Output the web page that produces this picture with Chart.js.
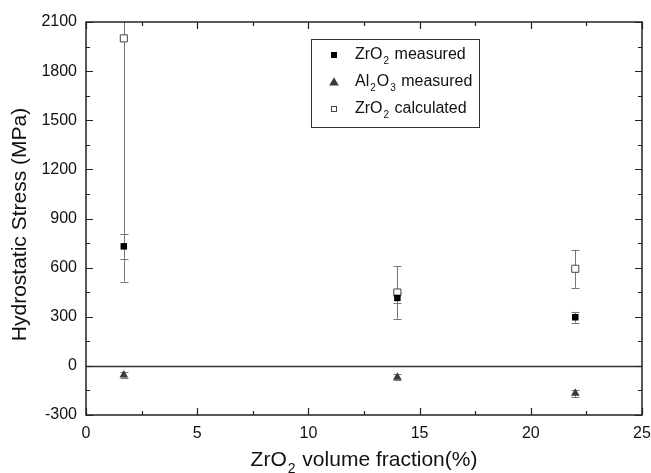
<!DOCTYPE html>
<html>
<head>
<meta charset="utf-8">
<script src="https://cdn.jsdelivr.net/npm/chart.js@4.4.0/dist/chart.umd.min.js"></script>
<style>
body{margin:0;background:#fff;}
#wrap{width:651px;height:473px;}
</style>
</head>
<body>
<div id="wrap"><canvas id="myChart" width="651" height="473"></canvas></div>
<script>
// ZrO2 volume fraction (%)
var fractions = [1.7, 14, 22];

// hydrostatic stress values (MPa) and their error half-widths
var zrMeasured = [730, 415, 297];
var zrMeasuredErr = [76, 30, 33];
var alMeasured = [-55, -69, -167];
var alMeasuredErr = [18, 20, 22];
var zrCalculated = [2000, 448, 593];
var zrCalculatedErr = [1485, 160, 116];

var xTicks = [0, 5, 10, 15, 20, 25];
var yTicks = [-300, 0, 300, 600, 900, 1200, 1500, 1800, 2100];

var legendItems = [
  {parts: [["ZrO", 0], ["2", 1], [" measured", 0]], marker: "square"},
  {parts: [["Al", 0], ["2", 1], ["O", 0], ["3", 1], [" measured", 0]], marker: "triangle"},
  {parts: [["ZrO", 0], ["2", 1], [" calculated", 0]], marker: "open"}
];

var FONT = "Arial, 'Liberation Sans', Helvetica, sans-serif";

function pts(ys) {
  return fractions.map(function (x, i) { return {x: x, y: ys[i]}; });
}

// text with subscripts, returns end x
function drawSubText(ctx, parts, x, y, size) {
  ctx.textBaseline = "middle";
  ctx.textAlign = "left";
  parts.forEach(function (p) {
    if (p[1]) {
      ctx.font = Math.round(size * 0.65) + "px " + FONT;
      ctx.fillText(p[0], x + 1, y + size * 0.42);
      x += ctx.measureText(p[0]).width + 2;
    } else {
      ctx.font = size + "px " + FONT;
      ctx.fillText(p[0], x, y);
      x += ctx.measureText(p[0]).width;
    }
  });
  return x;
}

function measureSubText(ctx, parts, size) {
  var w = 0;
  parts.forEach(function (p) {
    ctx.font = (p[1] ? Math.round(size * 0.65) : size) + "px " + FONT;
    w += ctx.measureText(p[0]).width + (p[1] ? 2 : 0);
  });
  return w;
}

function drawMarker(ctx, kind, x, y, s) {
  ctx.save();
  ctx.lineWidth = 1;
  if (kind === "square") {
    ctx.fillStyle = "#000";
    ctx.fillRect(x - s / 2, y - s / 2, s, s);
  } else if (kind === "triangle") {
    ctx.fillStyle = "#3a3a3a";
    ctx.beginPath();
    ctx.moveTo(x, y - s * 0.6);
    ctx.lineTo(x + s * 0.6, y + s * 0.45);
    ctx.lineTo(x - s * 0.6, y + s * 0.45);
    ctx.closePath();
    ctx.fill();
  } else {
    ctx.fillStyle = "#fff";
    ctx.strokeStyle = "#444";
    ctx.fillRect(x - s / 2, y - s / 2, s, s);
    ctx.strokeRect(x - s / 2 + 0.5, y - s / 2 + 0.5, s - 1, s - 1);
  }
  ctx.restore();
}

var errorSets = [
  {vals: zrMeasured, errs: zrMeasuredErr},
  {vals: alMeasured, errs: alMeasuredErr},
  {vals: zrCalculated, errs: zrCalculatedErr}
];

var decorPlugin = {
  id: "decor",
  beforeDatasetsDraw: function (chart) {
    var ctx = chart.ctx, a = chart.chartArea;
    var xs = chart.scales.x, ys = chart.scales.y;
    ctx.save();
    ctx.beginPath();
    ctx.rect(a.left, a.top, a.right - a.left, a.bottom - a.top);
    ctx.clip();
    // zero line
    var y0 = Math.round(ys.getPixelForValue(0)) + 0.5;
    ctx.strokeStyle = "#333";
    ctx.lineWidth = 1.5;
    ctx.beginPath();
    ctx.moveTo(a.left, y0);
    ctx.lineTo(a.right, y0);
    ctx.stroke();
    // error bars
    ctx.strokeStyle = "#777";
    ctx.lineWidth = 1;
    errorSets.forEach(function (set) {
      fractions.forEach(function (f, i) {
        var px = Math.round(xs.getPixelForValue(f)) + 0.5;
        var top = ys.getPixelForValue(set.vals[i] + set.errs[i]);
        var bot = ys.getPixelForValue(set.vals[i] - set.errs[i]);
        ctx.beginPath();
        ctx.moveTo(px, top);
        ctx.lineTo(px, bot);
        ctx.moveTo(px - 4, Math.round(top) + 0.5);
        ctx.lineTo(px + 4, Math.round(top) + 0.5);
        ctx.moveTo(px - 4, Math.round(bot) + 0.5);
        ctx.lineTo(px + 4, Math.round(bot) + 0.5);
        ctx.stroke();
      });
    });
    ctx.restore();
  },
  afterDraw: function (chart) {
    var ctx = chart.ctx, a = chart.chartArea;
    var xs = chart.scales.x, ys = chart.scales.y;
    ctx.save();
    ctx.strokeStyle = "#222";
    ctx.lineWidth = 1.5;
    // frame
    ctx.strokeRect(a.left, a.top, a.right - a.left, a.bottom - a.top);
    // inward ticks, major and minor, on all four sides
    ctx.lineWidth = 1.2;
    ctx.beginPath();
    for (var v = 0; v <= 25; v += 2.5) {
      var px = Math.round(xs.getPixelForValue(v)) + 0.5;
      var len = (v % 5 === 0) ? 7 : 4;
      ctx.moveTo(px, a.bottom); ctx.lineTo(px, a.bottom - len);
      ctx.moveTo(px, a.top); ctx.lineTo(px, a.top + len);
    }
    for (var w = -300; w <= 2100; w += 150) {
      var py = Math.round(ys.getPixelForValue(w)) + 0.5;
      var l2 = (w % 300 === 0) ? 7 : 4;
      ctx.moveTo(a.left, py); ctx.lineTo(a.left + l2, py);
      ctx.moveTo(a.right, py); ctx.lineTo(a.right - l2, py);
    }
    ctx.stroke();

    // legend
    ctx.lineWidth = 1;
    ctx.strokeStyle = "#333";
    ctx.strokeRect(311.5, 39.5, 168, 88);
    legendItems.forEach(function (it, i) {
      var cy = 55 + i * 27;
      drawMarker(ctx, it.marker, 334, cy, it.marker === "triangle" ? 8 : 6);
      ctx.fillStyle = "#111";
      drawSubText(ctx, it.parts, 355, cy, 16);
    });

    // x axis title
    var xt = [["ZrO", 0], ["2", 1], [" volume fraction(%)", 0]];
    var tw = measureSubText(ctx, xt, 21);
    ctx.fillStyle = "#111";
    drawSubText(ctx, xt, (a.left + a.right) / 2 - tw / 2, 460, 21);

    // y axis title
    ctx.translate(20, (a.top + a.bottom) / 2 + 6);
    ctx.rotate(-Math.PI / 2);
    ctx.font = "21px " + FONT;
    ctx.textAlign = "center";
    ctx.textBaseline = "middle";
    ctx.fillText("Hydrostatic Stress (MPa)", 0, 0);
    ctx.restore();
  }
};

function plainLabel(value) {
  return String(value);
}

var ctx = document.getElementById("myChart").getContext("2d");
new Chart(ctx, {
  type: "scatter",
  data: {
    datasets: [
      {label: "ZrO2 measured", data: pts(zrMeasured), pointStyle: "rect", pointRadius: 4.6,
        backgroundColor: "#000", borderColor: "#000", borderWidth: 0},
      {label: "Al2O3 measured", data: pts(alMeasured), pointStyle: "triangle", pointRadius: 5,
        backgroundColor: "#3a3a3a", borderColor: "#3a3a3a", borderWidth: 0},
      {label: "ZrO2 calculated", data: pts(zrCalculated), pointStyle: "rect", pointRadius: 5,
        backgroundColor: "#fff", borderColor: "#444", borderWidth: 1}
    ]
  },
  options: {
    responsive: false,
    animation: false,
    devicePixelRatio: 1,
    layout: {padding: {top: 22, right: 9, left: 0, bottom: 0}},
    plugins: {legend: {display: false}, tooltip: {enabled: false}},
    scales: {
      x: {
        type: "linear", min: 0, max: 25,
        afterFit: function (s) { s.height = 58; s.paddingLeft = 0; s.paddingRight = 0; },
        afterBuildTicks: function (s) { s.ticks = xTicks.map(function (v) { return {value: v}; }); },
        grid: {display: true, drawOnChartArea: false, drawTicks: false},
        border: {display: false},
        ticks: {padding: 9, color: "#111", font: {size: 16, family: FONT}, maxRotation: 0, callback: plainLabel}
      },
      y: {
        type: "linear", min: -300, max: 2100,
        afterFit: function (s) { s.width = 86; s.paddingTop = 0; s.paddingBottom = 0; },
        afterBuildTicks: function (s) { s.ticks = yTicks.map(function (v) { return {value: v}; }); },
        grid: {display: true, drawOnChartArea: false, drawTicks: false},
        border: {display: false},
        ticks: {padding: 9, color: "#111", font: {size: 16, family: FONT}, callback: plainLabel}
      }
    }
  },
  plugins: [decorPlugin]
});
</script>
</body>
</html>
